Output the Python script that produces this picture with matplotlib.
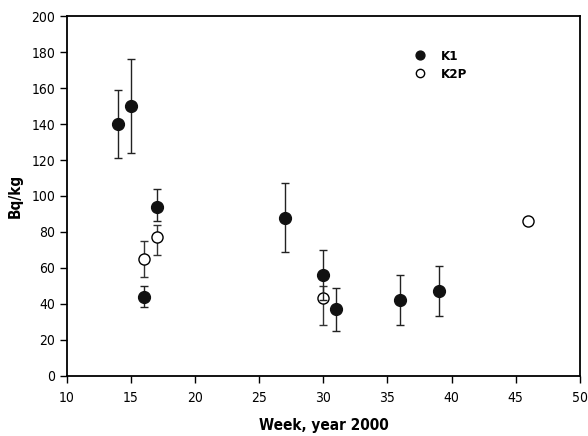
import numpy as np
import matplotlib.pyplot as plt

plt.rcParams['font.family'] = ['DejaVu Sans']
plt.rcParams['font.stretch'] = 'condensed'

# K1 series
k1_week = [14, 15, 16, 17, 27, 30, 31, 36, 39]
k1_val = [140, 150, 44, 94, 88, 56, 37, 42, 47]
k1_lo = [121, 124, 38, 86, 69, 42, 25, 28, 33]
k1_hi = [159, 176, 50, 104, 107, 70, 49, 56, 61]

# K2P series
k2p_week = [16, 17, 30, 46]
k2p_val = [65, 77, 43, 86]
k2p_lo = [55, 67, 28, 86]
k2p_hi = [75, 84, 50, 86]


def errs(val, lo, hi):
    val = np.array(val)
    return [val - np.array(lo), np.array(hi) - val]


fig = plt.figure(figsize=(5.88, 4.36), dpi=100)
ax = fig.add_axes([0.114, 0.138, 0.872, 0.825])

ax.errorbar(k2p_week, k2p_val, yerr=errs(k2p_val, k2p_lo, k2p_hi), fmt='o',
            ms=8, mfc='white', mec='black', mew=1.0, ecolor='#333333',
            elinewidth=1.0, capsize=3, capthick=1.0, label='K2P', zorder=3)
ax.errorbar(k1_week, k1_val, yerr=errs(k1_val, k1_lo, k1_hi), fmt='o',
            ms=8.5, mfc='#111111', mec='#111111', ecolor='#222222',
            elinewidth=1.0, capsize=3, capthick=1.0, label='K1', zorder=4)

ax.set_xlim(10, 50)
ax.set_ylim(0, 200)
ax.set_xticks(np.arange(10, 51, 5))
ax.set_yticks(np.arange(0, 201, 20))
ax.tick_params(direction='out', length=5, width=1, labelsize=10)
ax.tick_params(axis='x', pad=6)
for s in ax.spines.values():
    s.set_linewidth(1.3)

ax.set_xlabel('Week, year 2000', fontsize=11, fontweight='bold', labelpad=9)
ax.set_ylabel('Bq/kg', fontsize=11, fontweight='bold', labelpad=6)

h, l = ax.get_legend_handles_labels()
h = [x[0] for x in h]
leg = ax.legend(h[::-1], l[::-1], loc='upper left', bbox_to_anchor=(0.64, 0.94),
                frameon=False, fontsize=9.5, handletextpad=0.6, labelspacing=0.4,
                markerscale=0.75)
for t in leg.get_texts():
    t.set_fontweight('bold')

fig.savefig('out.png', dpi=100)
